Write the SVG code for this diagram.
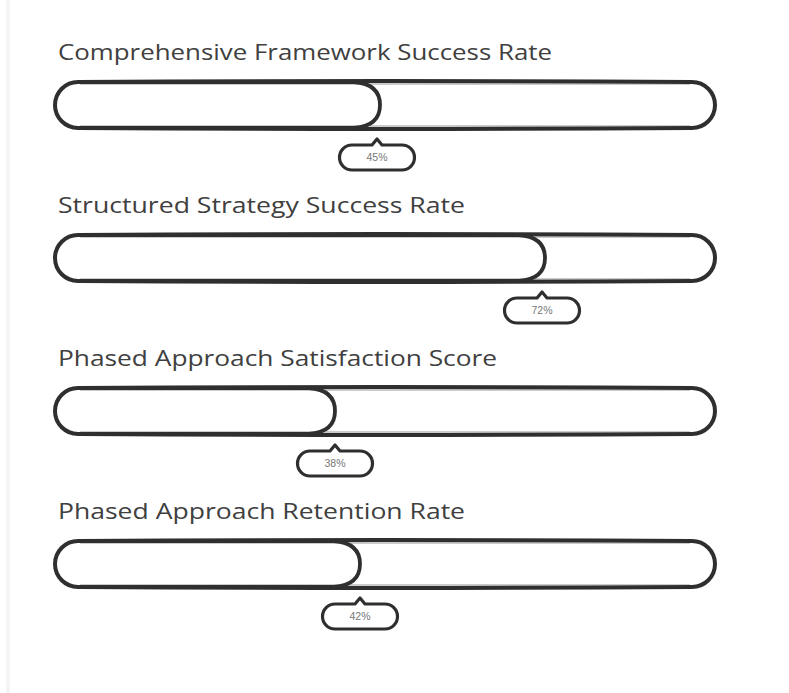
<svg xmlns="http://www.w3.org/2000/svg" width="789" height="693" viewBox="0 0 789 693">
  <style>
    .label { font-family: "Comic Sans MS", "Open Sans", "DejaVu Sans", sans-serif; font-size: 22px; fill: #404040; }
    .pct { font-family: "Liberation Sans", "DejaVu Sans", sans-serif; font-size: 10.5px; fill: #777; text-anchor: middle; }
    .track { fill: #ffffff; stroke: #2f2f2f; stroke-width: 4; stroke-linejoin: round; }
    .fill { fill: none; stroke: #2f2f2f; stroke-width: 3.8; stroke-linejoin: round; }
    .sketch { fill: none; stroke: #2f2f2f; stroke-width: 1.2; opacity: 0.5; }
    .badge { fill: #ffffff; stroke: #2f2f2f; stroke-width: 3.2; stroke-linejoin: round; }
  </style>
  <rect width="789" height="693" fill="#ffffff"/>
  <line x1="8" y1="0" x2="8" y2="693" stroke="#f2f2f2" stroke-width="3"/>

  <!-- Row 1: 45% -->
  <g id="row-comprehensive">
    <text class="label" x="58" y="60" textLength="494" lengthAdjust="spacingAndGlyphs">Comprehensive Framework Success Rate</text>
    <path class="track" d="M78,82 Q380,80 692,82 A23,23 0 0 1 692,128 Q380,130 78,128 A23,23 0 0 1 78,82 Z"/>
    <path class="sketch" d="M80,84 Q380,83 690,84 M80,126 Q380,127 690,126"/>
    <path class="fill" d="M78,82 L354,82 Q380,84 380,105 Q380,126 354,128 L78,128"/>
    <path class="badge" d="M352,145 L372,145 L377,139 L382,145 L402,145 A12.5,12.5 0 0 1 402,170 L352,170 A12.5,12.5 0 0 1 352,145 Z"/>
    <text class="pct" x="377" y="161">45%</text>
  </g>

  <!-- Row 2: 72% -->
  <g id="row-structured">
    <text class="label" x="58" y="213" textLength="407" lengthAdjust="spacingAndGlyphs">Structured Strategy Success Rate</text>
    <path class="track" d="M78,235 Q380,233 692,235 A23,23 0 0 1 692,281 Q380,283 78,281 A23,23 0 0 1 78,235 Z"/>
    <path class="sketch" d="M80,237 Q380,236 690,237 M80,279 Q380,280 690,279"/>
    <path class="fill" d="M78,235 L519,235 Q545,237 545,258 Q545,279 519,281 L78,281"/>
    <path class="badge" d="M517,298 L537,298 L542,292 L547,298 L567,298 A12.5,12.5 0 0 1 567,323 L517,323 A12.5,12.5 0 0 1 517,298 Z"/>
    <text class="pct" x="542" y="314">72%</text>
  </g>

  <!-- Row 3: 38% -->
  <g id="row-satisfaction">
    <text class="label" x="58" y="366" textLength="439" lengthAdjust="spacingAndGlyphs">Phased Approach Satisfaction Score</text>
    <path class="track" d="M78,388 Q380,386 692,388 A23,23 0 0 1 692,434 Q380,436 78,434 A23,23 0 0 1 78,388 Z"/>
    <path class="sketch" d="M80,390 Q380,389 690,390 M80,432 Q380,433 690,432"/>
    <path class="fill" d="M78,388 L309,388 Q335,390 335,411 Q335,432 309,434 L78,434"/>
    <path class="badge" d="M310,451 L330,451 L335,445 L340,451 L360,451 A12.5,12.5 0 0 1 360,476 L310,476 A12.5,12.5 0 0 1 310,451 Z"/>
    <text class="pct" x="335" y="467">38%</text>
  </g>

  <!-- Row 4: 42% -->
  <g id="row-retention">
    <text class="label" x="58" y="519" textLength="407" lengthAdjust="spacingAndGlyphs">Phased Approach Retention Rate</text>
    <path class="track" d="M78,541 Q380,539 692,541 A23,23 0 0 1 692,587 Q380,589 78,587 A23,23 0 0 1 78,541 Z"/>
    <path class="sketch" d="M80,543 Q380,542 690,543 M80,585 Q380,586 690,585"/>
    <path class="fill" d="M78,541 L334,541 Q360,543 360,564 Q360,585 334,587 L78,587"/>
    <path class="badge" d="M335,604 L355,604 L360,598 L365,604 L385,604 A12.5,12.5 0 0 1 385,629 L335,629 A12.5,12.5 0 0 1 335,604 Z"/>
    <text class="pct" x="360" y="620">42%</text>
  </g>
</svg>
